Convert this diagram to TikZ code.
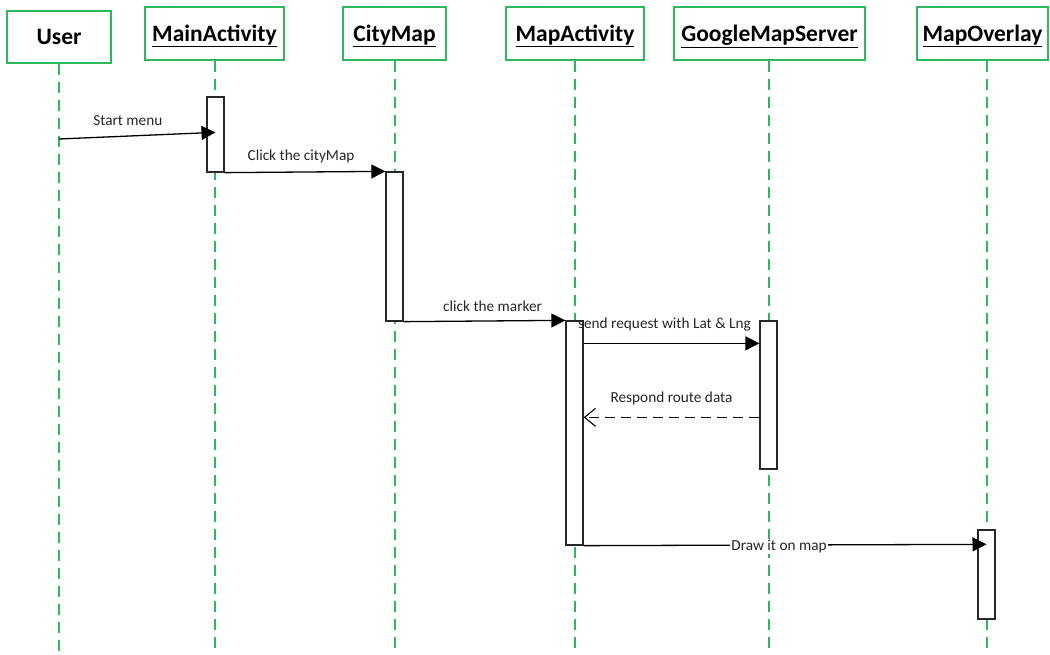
\documentclass[tikz,border=0pt]{standalone}
\usepackage{fontspec}
\setmainfont{Carlito}
\usetikzlibrary{arrows.meta,calc}
\definecolor{lifegreen}{RGB}{46,184,92}
\definecolor{actgray}{RGB}{40,40,40}
\tikzset{
  head/.style={draw=lifegreen, line width=1.4pt, fill=white, inner sep=0pt,
    font=\fontsize{23.5}{25}\selectfont\bfseries, minimum height=53pt,
    text height=22.5pt, text depth=6.5pt},
  lifeline/.style={draw=lifegreen, line width=1.4pt, dash pattern=on 11pt off 7pt},
  act/.style={draw=actgray, line width=1.3pt, fill=white, minimum width=17pt, inner sep=0pt},
  msg/.style={draw=black, line width=1.3pt, -{Triangle[length=14pt,width=14pt]}},
  ret/.style={draw=black, line width=1.1pt, dash pattern=on 10pt off 6pt, -{Straight Barb[length=11pt,width=18pt]}},
  lbl/.style={font=\fontsize{15.3}{17}\selectfont, inner sep=0pt, text=black!85}
}
\begin{document}
\begin{tikzpicture}[x=1pt,y=-1pt]
\useasboundingbox (0,0) rectangle (1050,655);
% heads
\node[head, minimum width=104pt, minimum height=52pt] (user) at (59,37) {User};
\node[head, minimum width=139pt] (main) at (214.5,33.5) {\underline{MainActivity}};
\node[head, minimum width=103pt] (city) at (394.5,33.5) {\underline{CityMap}};
\node[head, minimum width=138pt] (mapact) at (575,33.5) {\underline{MapActivity}};
\node[head, minimum width=191pt] (gms) at (769.5,33.5) {\underline{GoogleMapServer}};
\node[head, minimum width=131pt] (ovl) at (982.5,33.5) {\underline{MapOverlay}};
% lifeline ends
\coordinate (b1) at (59,655);
\coordinate (b2) at (215,655);
\coordinate (b3) at (395,655);
\coordinate (b4) at (575,655);
\coordinate (b5) at (769,655);
\coordinate (b6) at (987,655);
\draw[lifeline] (user.south -| b1) -- (b1);
\draw[lifeline] (main.south -| b2) -- (b2);
\draw[lifeline] (city.south -| b3) -- (b3);
\draw[lifeline] (mapact.south -| b4) -- (b4);
\draw[lifeline] (gms.south -| b5) -- (b5);
\draw[lifeline] (ovl.south -| b6) -- (b6);
% activations
\node[act, minimum height=75pt] (a1) at (215.5,134.5) {};
\node[act, minimum height=149pt] (a2) at (394.5,246.5) {};
\node[act, minimum height=224pt] (a3) at (574.5,433) {};
\node[act, minimum height=148pt] (a4) at (768.5,395) {};
\node[act, minimum height=89pt] (a5) at (986.5,574.5) {};
% messages
\coordinate (s1) at (59,139);
\draw[msg] (s1) -- ($(a1.north)+(0,36)$)
  node[lbl, pos=0.44, above=10pt] {Start menu};
\draw[msg] (a1.south east) -- (a2.north west)
  node[lbl, midway, above=8pt, xshift=-4pt] {Click the cityMap};
\draw[msg] (a2.south east) -- (a3.north west)
  node[lbl, pos=0.55, above=9pt] {click the marker};
\draw[msg] ($(a3.north east)+(0,23)$) -- ($(a4.north west)+(0,23)$)
  node[lbl, pos=0.46, above=12pt] {send request with Lat \& Lng};
\draw[ret] ($(a4.north west)+(0,97)$) -- ($(a3.north east)+(0,97)$)
  node[lbl, pos=0.5, above=12pt] {Respond route data};
\draw[msg] (a3.south east) -- ($(a5.north)+(0,15)$)
  node[lbl, pos=0.485, fill=white, inner sep=1pt, yshift=-1.5pt] {Draw it on map};
\end{tikzpicture}
\end{document}
